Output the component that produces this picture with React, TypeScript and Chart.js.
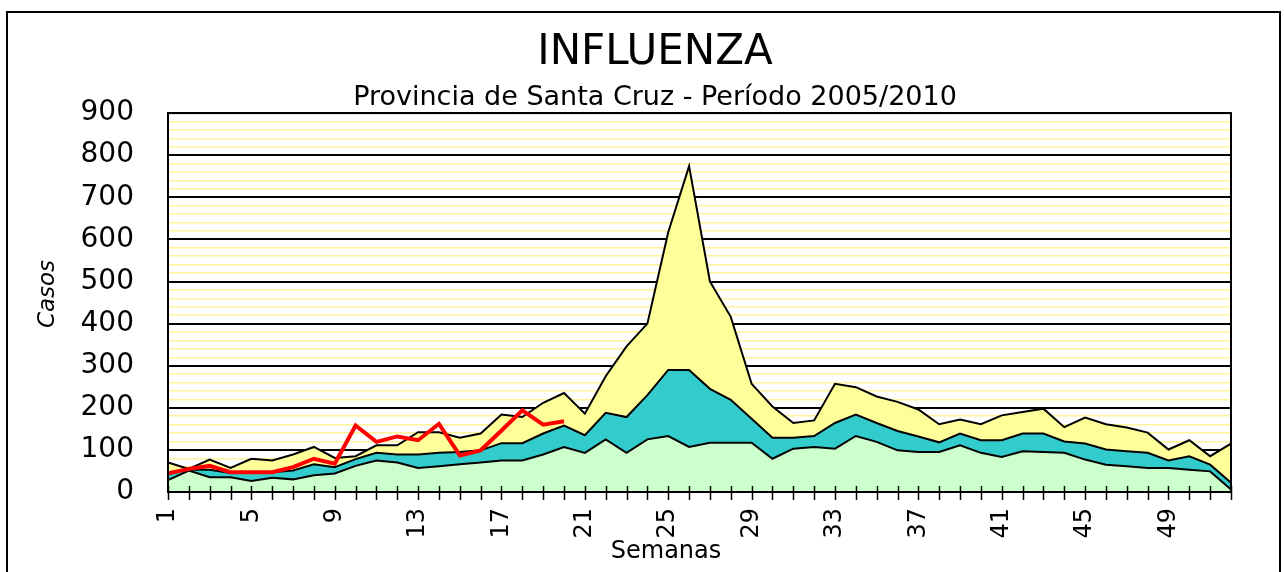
import React, { useEffect, useRef } from 'react';
import { Chart, registerables } from 'chart.js';

Chart.register(...registerables);

// Semanas epidemiológicas
const weeks: string[] = [
  '1', '2', '3', '4', '5', '6', '7', '8', '9', '10', '11', '12', '13',
  '14', '15', '16', '17', '18', '19', '20', '21', '22', '23', '24', '25', '26',
  '27', '28', '29', '30', '31', '32', '33', '34', '35', '36', '37', '38', '39',
  '40', '41', '42', '43', '44', '45', '46', '47', '48', '49', '50', '51', '52',
];

// Límite superior de la zona verde (éxito)
const zonaExito: number[] = [
  28, 51, 35, 35, 26, 34, 30, 40, 44, 62, 75, 70, 57,
  61, 66, 70, 75, 75, 89, 107, 93, 125, 93, 125, 133, 107,
  117, 117, 117, 79, 103, 107, 103, 133, 119, 99, 95, 95, 111,
  93, 83, 97, 95, 93, 77, 65, 61, 57, 57, 53, 49, 6,
];

// Límite superior de la zona turquesa (seguridad)
const zonaSeguridad: number[] = [
  47, 53, 53, 45, 45, 47, 51, 66, 59, 78, 93, 89, 89,
  93, 95, 99, 116, 116, 139, 158, 135, 188, 178, 230, 290, 290,
  245, 219, 174, 129, 129, 133, 164, 184, 164, 145, 132, 118, 139,
  123, 123, 139, 139, 120, 115, 101, 97, 93, 75, 85, 65, 22,
];

// Límite superior de la zona amarilla (alerta)
const zonaAlerta: number[] = [
  70, 55, 77, 57, 79, 75, 89, 107, 81, 85, 111, 111, 142,
  142, 129, 139, 184, 178, 212, 235, 186, 275, 346, 400, 617, 774,
  500, 416, 257, 203, 164, 170, 257, 249, 227, 214, 196, 161, 172,
  161, 182, 190, 198, 154, 177, 161, 153, 141, 101, 123, 85, 115,
];

// Casos del año en curso (semanas 1 a 20)
const casosActuales: number[] = [
  44, 55, 62, 47, 47, 47, 59, 79, 67, 158, 119, 132, 123,
  162, 87, 99, 146, 194, 160, 168,
];

const yMin = 0;
const yMax = 900;
const yStep = 20;
const yLabelStep = 100;
const xLabelEvery = 4;

const titleText = 'INFLUENZA';
const subtitleText = 'Provincia de Santa Cruz - Período 2005/2010';
const xTitleText = 'Semanas';
const yTitleText = 'Casos';

const FONT = "'DejaVu Sans', sans-serif";

const frameTicksTitles = {
  id: 'frameTicksTitles',
  afterDatasetsDraw(chart: any) {
    const ctx = chart.ctx;
    const xs = chart.scales.x;
    const { left, top, right, bottom } = chart.chartArea;
    ctx.save();
    ctx.strokeStyle = '#000';
    ctx.lineWidth = 1.5;
    for (let i = 0; i < weeks.length; i++) {
      const px = Math.round(xs.getPixelForValue(i)) + 0.5;
      ctx.beginPath();
      ctx.moveTo(px, bottom - 6);
      ctx.lineTo(px, bottom + 8);
      ctx.stroke();
    }
    ctx.lineWidth = 2;
    ctx.strokeRect(left, top, right - left, bottom - top);
    ctx.restore();
  },
  afterDraw(chart: any) {
    const ctx = chart.ctx;
    ctx.save();
    ctx.fillStyle = '#000';
    ctx.textAlign = 'center';
    ctx.textBaseline = 'middle';
    ctx.font = `24px ${FONT}`;
    ctx.fillText(xTitleText, 666, 552);
    ctx.translate(48, 294);
    ctx.rotate(-Math.PI / 2);
    ctx.font = `italic 23px ${FONT}`;
    ctx.fillText(yTitleText, 0, 0);
    ctx.restore();
  },
};

export default function App() {
  const canvasRef = useRef<HTMLCanvasElement | null>(null);

  useEffect(() => {
    if (!canvasRef.current) return;
    Chart.defaults.font.family = FONT;
    const chart = new Chart(canvasRef.current, {
      type: 'line',
      data: {
        labels: weeks,
        datasets: [
          {
            label: 'Casos 2010',
            data: casosActuales,
            borderColor: '#FF0000',
            borderWidth: 4,
            fill: false,
            pointRadius: 0,
            order: 1,
          },
          {
            label: 'Zona de éxito',
            data: zonaExito,
            borderColor: '#000',
            borderWidth: 2,
            backgroundColor: '#CCFFCC',
            fill: 'origin',
            pointRadius: 0,
            order: 2,
          },
          {
            label: 'Zona de seguridad',
            data: zonaSeguridad,
            borderColor: '#000',
            borderWidth: 2,
            backgroundColor: '#33CCCC',
            fill: 'origin',
            pointRadius: 0,
            order: 3,
          },
          {
            label: 'Zona de alerta',
            data: zonaAlerta,
            borderColor: '#000',
            borderWidth: 2,
            backgroundColor: '#FFFF99',
            fill: 'origin',
            pointRadius: 0,
            order: 4,
          },
        ],
      },
      options: {
        responsive: false,
        animation: false,
        events: [],
        layout: { padding: { top: 0, right: 53, bottom: 0, left: 79 } },
        elements: { line: { tension: 0 } },
        plugins: {
          legend: { display: false },
          tooltip: { enabled: false },
          title: {
            display: true,
            text: titleText,
            color: '#000',
            font: { size: 42, weight: 'normal', family: FONT },
            padding: { top: 28, bottom: 0 },
          },
          subtitle: {
            display: true,
            text: subtitleText,
            color: '#000',
            font: { size: 27, weight: 'normal', family: FONT, lineHeight: 1.1 },
            padding: { top: 5, bottom: 0 },
          },
        },
        scales: {
          x: {
            type: 'category',
            offset: false,
            grid: { drawOnChartArea: false, drawTicks: false },
            border: { color: '#000', width: 2 },
            ticks: {
              autoSkip: false,
              minRotation: 90,
              maxRotation: 90,
              padding: 16,
              color: '#000',
              font: { size: 24, family: FONT },
              callback: (_v: any, i: number) => (i % xLabelEvery === 0 ? weeks[i] : ''),
            },
            title: { display: false },
            afterFit: (s: any) => {
              s.height = 80;
            },
          },
          y: {
            min: yMin,
            max: yMax,
            grid: {
              drawTicks: false,
              color: (c: any) => (c.tick && c.tick.value % yLabelStep === 0 ? '#000' : '#FFF39A'),
              lineWidth: (c: any) => (c.tick && c.tick.value % yLabelStep === 0 ? 2 : 1.5),
            },
            border: { color: '#000', width: 2 },
            ticks: {
              stepSize: yStep,
              autoSkip: false,
              padding: 34,
              color: '#000',
              font: { size: 28, family: FONT },
              callback: (v: any) => (Number(v) % yLabelStep === 0 ? String(v) : ''),
            },
            title: { display: false },
            afterFit: (s: any) => {
              s.width = 89;
            },
          },
        },
      },
      plugins: [frameTicksTitles],
    });
    return () => chart.destroy();
  }, []);

  return (
    <div
      style={{
        position: 'fixed',
        left: 0,
        top: 0,
        width: 1284,
        height: 572,
        overflow: 'hidden',
        background: '#fff',
      }}
    >
      <canvas ref={canvasRef} width={1284} height={572} style={{ display: 'block', position: 'absolute', left: 0, top: 0 }} />
      <div
        style={{
          position: 'absolute',
          left: 6,
          top: 11,
          width: 1275,
          height: 640,
          border: '2px solid #000',
          boxSizing: 'border-box',
          pointerEvents: 'none',
        }}
      />
    </div>
  );
}
